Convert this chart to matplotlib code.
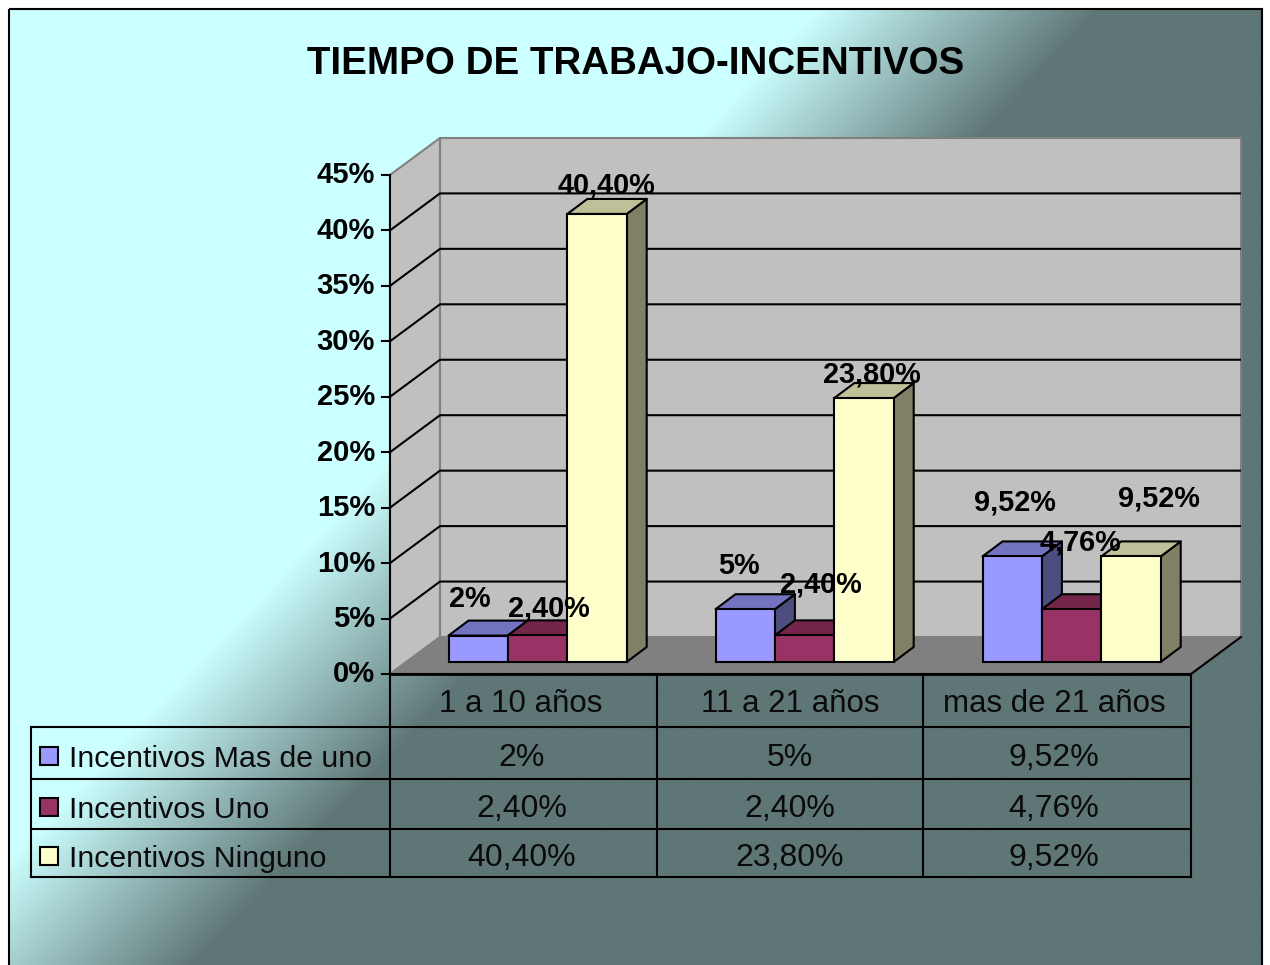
import numpy as np
import matplotlib
matplotlib.use("Agg")
import matplotlib.pyplot as plt
from matplotlib.patches import Polygon, Rectangle

plt.rcParams['font.family'] = ['Liberation Sans', 'DejaVu Sans']

categories = ['1 a 10 años', '11 a 21 años', 'mas de 21 años']
series_names = ['Incentivos Mas de uno', 'Incentivos Uno', 'Incentivos Ninguno']
mas_de_uno = [2.38, 4.76, 9.52]
uno = [2.40, 2.40, 4.76]
ninguno = [40.40, 23.80, 9.52]
mas_de_uno_txt = ['2%', '5%', '9,52%']
uno_txt = ['2,40%', '2,40%', '4,76%']
ninguno_txt = ['40,40%', '23,80%', '9,52%']
yticks = [0, 5, 10, 15, 20, 25, 30, 35, 40, 45]

W, H = 1270, 965
X0, GROUP = 390, 267      # px of category 0, px per category
Y0, UNIT = 674, 11.09     # px of 0%, px per 1%
DARK = np.array([0x5f, 0x76, 0x76]) / 255
LIGHT = np.array([0xcc, 0xff, 0xff]) / 255

fig = plt.figure(figsize=(W / 100, H / 100), dpi=100, facecolor='white')

# background gradient
bg = fig.add_axes([0, 0, 1, 1])
bg.set_xlim(0, W)
bg.set_ylim(H, 0)
bg.axis('off')
xx, yy = np.meshgrid(np.linspace(0, W, 640), np.linspace(0, H, 480))
t = np.clip((xx + 0.95 * yy - 825) / 285, 0, 1)
im = bg.imshow(LIGHT + (DARK - LIGHT) * t[..., None], extent=(0, W, H, 0), aspect='auto', interpolation='bilinear')
frame = Rectangle((8.5, 8.5), 1253, 970, fc='none', ec='black', lw=1.5)
bg.add_patch(frame)
im.set_clip_path(frame)

# chart axes: x in categories, y in percent
ax = fig.add_axes([0, 0, 1, 1])
ax.set_xlim(-X0 / GROUP, (W - X0) / GROUP)
ax.set_ylim((Y0 - H) / UNIT, Y0 / UNIT)
ax.axis('off')


def dx(px):
    return px / GROUP


def dy(px):
    return px / UNIT


DEPTH_X, DEPTH_Y = dx(50), dy(37)
top = yticks[-1]
n = len(categories)

# walls and floor
ax.add_patch(Polygon([(0, 0), (DEPTH_X, DEPTH_Y), (DEPTH_X, top + DEPTH_Y), (0, top)],
                     fc='#c0c0c0', ec='#808080', lw=1.5, zorder=1))
ax.add_patch(Polygon([(DEPTH_X, DEPTH_Y), (n + DEPTH_X, DEPTH_Y), (n + DEPTH_X, top + DEPTH_Y),
                      (DEPTH_X, top + DEPTH_Y)], fc='#c0c0c0', ec='#808080', lw=1.5, zorder=1))
ax.add_patch(Polygon([(0, 0), (n, 0), (n + DEPTH_X, DEPTH_Y), (DEPTH_X, DEPTH_Y)],
                     fc='#808080', ec='#808080', lw=1, zorder=1))
ax.plot([0, n], [0, 0], color='black', lw=2, zorder=2, solid_capstyle='butt')
ax.plot([n, n + DEPTH_X], [0, DEPTH_Y], color='black', lw=1.5, zorder=2)

# gridlines and y axis
for v in yticks[1:-1]:
    ax.plot([0, DEPTH_X, n + DEPTH_X], [v, v + DEPTH_Y, v + DEPTH_Y], color='black', lw=1.5, zorder=2,
            solid_capstyle='butt')
ax.plot([0, 0], [0, top], color='black', lw=1.5, zorder=3)
for v in yticks:
    ax.plot([-dx(8), 0], [v, v], color='black', lw=1.5, zorder=3)
    ax.text(-dx(15), v - dy(0.5), f'{v}%', ha='right', va='center', fontsize=21, fontweight='bold', zorder=6)

# bars
series = [mas_de_uno, uno, ninguno]
texts = [mas_de_uno_txt, uno_txt, ninguno_txt]
colors = [('#9999ff', '#7373bf', '#4d4d80'),
          ('#993366', '#732649', '#4d1933'),
          ('#ffffcc', '#bfbf99', '#808066')]
label_off = [[(-8, 37), (-6, 43), (3, 54)],
             [(11, 27), (16, 51), (9, 67)],
             [(10, 28), (8, 24), (28, 58)]]
BAR_W = dx(59.4)
BAR_START = dx(58.5)
BASE = dy(12)
BX, BY = dx(20), dy(15)
for g in range(n):
    for s in range(3):
        x = g + BAR_START + s * BAR_W
        h = series[s][g] + BASE
        front, top_c, side = colors[s]
        z = 4 + 0.01 * (g * 3 + s)
        ax.add_patch(Polygon([(x + BAR_W, BASE), (x + BAR_W + BX, BASE + BY), (x + BAR_W + BX, h + BY), (x + BAR_W, h)],
                             fc=side, ec='black', lw=1.5, zorder=z, joinstyle='round'))
        ax.add_patch(Polygon([(x, h), (x + BX, h + BY), (x + BAR_W + BX, h + BY), (x + BAR_W, h)],
                             fc=top_c, ec='black', lw=1.5, zorder=z, joinstyle='round'))
        ax.add_patch(Rectangle((x, BASE), BAR_W, series[s][g], fc=front, ec='black', lw=1.5, zorder=z))
for g in range(n):
    for s in range(3):
        x = g + BAR_START + (s + 0.5) * BAR_W
        ax.annotate(texts[s][g], (x, series[s][g] + BASE), xytext=label_off[s][g], textcoords='offset pixels',
                    ha='center', va='center', fontsize=20.8, fontweight='bold', zorder=7)

# data table
row_y = [dy(0), dy(-53), dy(-105), dy(-155), dy(-203)]
col_x = [0, 1, 1.996, 3]
left = dx(31 - X0)
cat_shift = [-2.5, 0, -3]
val_shift = [-1.5, 0, -3]
for i, y in enumerate(row_y):
    ax.plot([left if i > 0 else 0, n], [y, y], color='black', lw=1.5, zorder=2)
for x in col_x:
    ax.plot([x, x], [row_y[0], row_y[-1]], color='black', lw=1.5, zorder=2)
ax.plot([left, left], [row_y[1], row_y[-1]], color='black', lw=1.5, zorder=2)
for g in range(n):
    cx = (col_x[g] + col_x[g + 1]) / 2
    ax.text(cx + dx(cat_shift[g]), dy(-38), categories[g], ha='center', va='baseline', fontsize=22.5, color='#0a0a0a')
    for s in range(3):
        ax.text(cx + dx(val_shift[g]), (row_y[s + 1] + row_y[s + 2]) / 2 + dy(-13), texts[s][g], ha='center',
                va='baseline', fontsize=23, color='#0a0a0a')
for s in range(3):
    yc = (row_y[s + 1] + row_y[s + 2]) / 2
    ax.add_patch(Rectangle((left + dx(9), yc - dy(12)), dx(18), dy(18), fc=colors[s][0], ec='black', lw=1.5, zorder=3))
    ax.text(left + dx(38), yc + dy(-14), series_names[s], ha='left', va='baseline', fontsize=21.8, color='#0a0a0a')

fig.text(635.5 / W, 1 - 63.5 / H, 'TIEMPO DE TRABAJO-INCENTIVOS', ha='center', va='center',
         fontsize=27.7, fontweight='bold')

fig.savefig('out.png', dpi=100, facecolor='white')
